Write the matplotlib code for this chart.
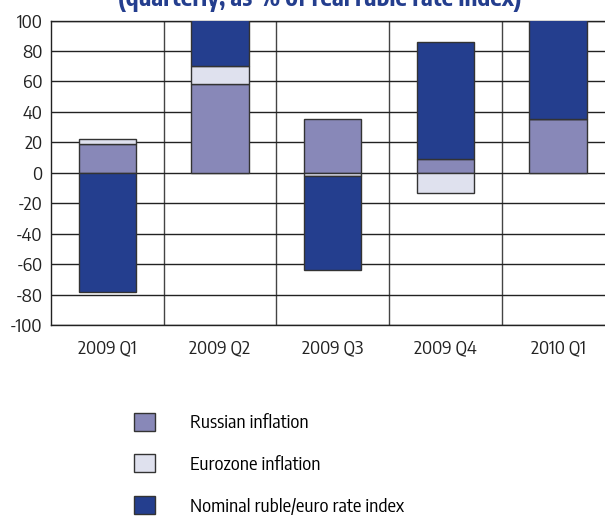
import matplotlib
matplotlib.use('Agg')
import matplotlib.pyplot as plt
import numpy as np

plt.rcParams['font.family'] = ['Encode Sans Condensed', 'DejaVu Sans']
plt.rcParams['axes.unicode_minus'] = False

# Values (percentage points)
quarters = ['2009 Q1', '2009 Q2', '2009 Q3', '2009 Q4', '2010 Q1']
russian_infl = [19, 58, 35, 9, 35]
euro_infl = [3, 12, -2, -13, 0]
euro_base = [19, 58, 0, 0, 35]
nominal_idx = [-78, 38, -62, 77, 75]
nominal_base = [0, 70, -2, 9, 35]
labels = ['Russian inflation', 'Eurozone inflation', 'Nominal ruble/euro rate index']

c_rus = '#8888b8'
c_euro = '#dfe1ee'
c_nom = '#243e8e'
edge = '#333333'
txt = '#222222'

fig = plt.figure(figsize=(6.05, 5.16), dpi=100)
ax = fig.add_axes([51 / 605, 1 - 325 / 516, 563.3 / 605, 304.5 / 516])

x = np.arange(len(quarters))
w = 0.51
b1 = ax.bar(x, russian_infl, w, color=c_rus, edgecolor=edge, linewidth=1, zorder=3)
b2 = ax.bar(x, euro_infl, w, bottom=euro_base, color=c_euro, edgecolor=edge, linewidth=1, zorder=3)
b3 = ax.bar(x, nominal_idx, w, bottom=nominal_base, color=c_nom, edgecolor=edge, linewidth=1, zorder=3)

ax.set_xlim(-0.5, 4.5)
ax.set_ylim(-100, 100)
ax.set_yticks(np.arange(-100, 101, 20))
ax.set_xticks(x)
ax.set_xticklabels(quarters)
ax.set_xticks(np.arange(0.5, 4.5, 1), minor=True)
ax.tick_params(axis='both', which='both', length=0, labelsize=13.5, colors=txt)
ax.tick_params(axis='y', pad=6)
ax.tick_params(axis='x', pad=10)
ax.grid(axis='y', which='major', color=txt, linewidth=1, zorder=0)
ax.grid(axis='x', which='minor', color='#444444', linewidth=1, zorder=0)
ax.set_axisbelow(True)
for side in ['left', 'bottom', 'top', 'right']:
    ax.spines[side].set_color(txt)
    ax.spines[side].set_linewidth(1)

# second title line, cut at the top edge as in the source
title = fig.text(320 / 605, 1 - 6 / 516, '(quarterly, as % of real ruble rate index)',
                 ha='center', va='baseline', fontsize=14, fontweight='bold', color=c_nom)
tw = title.get_window_extent(fig.canvas.get_renderer()).width
title.set_fontsize(14 * 404 / tw)

fig.legend([b1, b2, b3], labels,
           loc='upper left', bbox_to_anchor=(134 / 605, 1 - 412.5 / 516), frameon=False,
           fontsize=13.5, handlelength=1.1, handleheight=1.1, handletextpad=1.9,
           labelspacing=1.2, borderpad=0, borderaxespad=0)

fig.savefig('out.png', dpi=100)
